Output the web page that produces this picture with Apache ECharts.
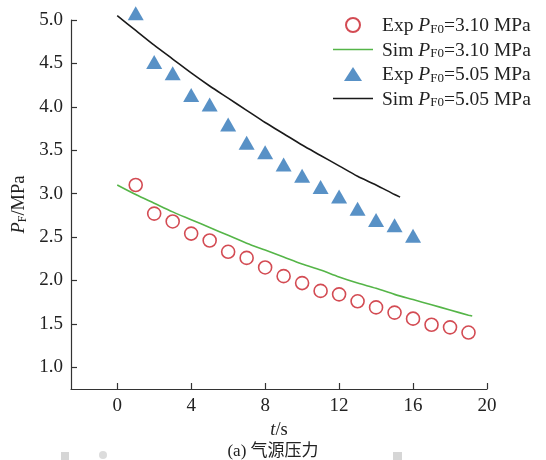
<!DOCTYPE html>
<html>
<head>
<meta charset="utf-8">
<script src="https://cdn.jsdelivr.net/npm/echarts@6/dist/echarts.min.js"></script>
<style>
  html, body { margin: 0; padding: 0; background: #fff; }
  #chart { width: 546px; height: 460px; }
</style>
</head>
<body>
<div id="chart"></div>
<script>
// Gas source pressure P_F versus time t
const expTime310 = [1, 2, 3, 4, 5, 6, 7, 8, 9, 10, 11, 12, 13, 14, 15, 16, 17, 18, 19];
const expP310 = [3.10, 2.77, 2.68, 2.54, 2.46, 2.33, 2.26, 2.15, 2.05, 1.97, 1.88, 1.84, 1.76, 1.69, 1.63, 1.56, 1.49, 1.46, 1.40];

const simTime310 = [0, 1, 2, 3, 4, 5, 6, 7, 8, 9, 10, 11, 12, 13, 14, 15, 16, 17, 18, 19, 19.2];
const simP310 = [3.10, 2.99, 2.89, 2.79, 2.70, 2.61, 2.52, 2.43, 2.35, 2.27, 2.19, 2.12, 2.04, 1.97, 1.91, 1.84, 1.78, 1.72, 1.66, 1.60, 1.59];

const expTime505 = [1, 2, 3, 4, 5, 6, 7, 8, 9, 10, 11, 12, 13, 14, 15, 16];
const expP505 = [5.05, 4.49, 4.36, 4.11, 4.00, 3.77, 3.56, 3.45, 3.31, 3.18, 3.05, 2.94, 2.80, 2.67, 2.61, 2.49];

const simTime505 = [0, 1, 2, 3, 4, 5, 6, 7, 8, 9, 10, 11, 12, 13, 14, 15, 15.3];
const simP505 = [5.05, 4.88, 4.71, 4.55, 4.39, 4.24, 4.10, 3.96, 3.82, 3.69, 3.56, 3.44, 3.32, 3.20, 3.10, 2.99, 2.96];

const xTicks = [0, 4, 8, 12, 16, 20];
const yTicks = [1.0, 1.5, 2.0, 2.5, 3.0, 3.5, 4.0, 4.5, 5.0];

const seriesNames = ['Exp PF0=3.10 MPa', 'Sim PF0=3.10 MPa', 'Exp PF0=5.05 MPa', 'Sim PF0=5.05 MPa'];
const legendParts = [['Exp ', '=3.10 MPa'], ['Sim ', '=3.10 MPa'], ['Exp ', '=5.05 MPa'], ['Sim ', '=5.05 MPa']];

const SERIF = '"Liberation Serif", "Times New Roman", serif';
const AXIS_COLOR = '#333333';
const RED = '#c81e28';
const GREEN = '#55b548';
const BLUE = '#2e75b8';
const BLACK = '#1a1a1a';

// legend glyphs: a thin bar for the simulated curves, a triangle for the measured points
const LINE_ICON = 'path://M0,0 L40,0 L40,1.5 L0,1.5 Z';
const TRI_ICON = 'path://M9,0 L18,14 L0,14 Z';

function pairs(xs, ys) { return xs.map((x, i) => [x, ys[i]]); }

function richSet(size, sub) {
  return {
    n: { fontFamily: SERIF, fontSize: size, color: '#222', lineHeight: 22, verticalAlign: 'bottom' },
    i: { fontFamily: SERIF, fontSize: size, fontStyle: 'italic', color: '#222', lineHeight: 22, verticalAlign: 'bottom' },
    s: { fontFamily: SERIF, fontSize: sub, color: '#222', lineHeight: 8, verticalAlign: 'bottom' }
  };
}

const chart = echarts.init(document.getElementById('chart'), null, { renderer: 'canvas' });

chart.setOption({
  animation: false,
  backgroundColor: '#ffffff',
  grid: { left: 71, right: 59, top: 20, bottom: 71, outerBoundsMode: 'none' },
  legend: {
    orient: 'vertical',
    left: 328,
    top: 11,
    itemWidth: 40,
    itemHeight: 14,
    itemGap: 4.5,
    data: [
      { name: seriesNames[0], icon: 'circle' },
      { name: seriesNames[1], icon: LINE_ICON, itemStyle: { color: GREEN } },
      { name: seriesNames[2], icon: TRI_ICON, itemStyle: { color: BLUE } },
      { name: seriesNames[3], icon: LINE_ICON, itemStyle: { color: BLACK } }
    ],
    formatter: function (name) {
      const k = seriesNames.indexOf(name);
      return '{n|' + legendParts[k][0] + '}{i|P}{s|F0}{n|' + legendParts[k][1] + '}';
    },
    textStyle: { rich: richSet(19.5, 13), padding: [0, 0, 0, 4] }
  },
  xAxis: {
    type: 'value',
    min: -2.5,
    max: 20,
    name: '{i|t}{n|/s}',
    nameLocation: 'middle',
    nameGap: 23,
    nameTextStyle: { rich: richSet(18.5, 12) },
    axisLine: { show: true, onZero: false, lineStyle: { color: AXIS_COLOR, width: 1.2 } },
    axisTick: { show: true, inside: true, length: 6, customValues: xTicks, lineStyle: { color: AXIS_COLOR, width: 1.2 } },
    axisLabel: { customValues: xTicks, margin: 8, fontFamily: SERIF, fontSize: 19, color: '#222' },
    splitLine: { show: false }
  },
  yAxis: {
    type: 'value',
    min: 0.75,
    max: 5.0,
    name: '{i|P}{s|F}{n|/MPa}',
    nameLocation: 'middle',
    nameGap: 42,
    nameTextStyle: { rich: richSet(18.5, 12) },
    axisLine: { show: true, onZero: false, lineStyle: { color: AXIS_COLOR, width: 1.2 } },
    axisTick: { show: true, inside: true, length: 6, customValues: yTicks, lineStyle: { color: AXIS_COLOR, width: 1.2 } },
    axisLabel: {
      customValues: yTicks, margin: 8, fontFamily: SERIF, fontSize: 19, color: '#222',
      formatter: v => v.toFixed(1)
    },
    splitLine: { show: false }
  },
  series: [
    {
      name: seriesNames[0],
      type: 'scatter',
      data: pairs(expTime310, expP310),
      symbol: 'circle',
      symbolSize: 13,
      clip: false,
      itemStyle: { color: 'rgba(255,255,255,0)', borderColor: RED, borderWidth: 1.6 },
      z: 3
    },
    {
      name: seriesNames[1],
      type: 'line',
      data: pairs(simTime310, simP310),
      showSymbol: false,
      symbol: 'none',
      smooth: 0.3,
      clip: false,
      lineStyle: { color: GREEN, width: 1.6 },
      itemStyle: { color: GREEN },
      z: 2
    },
    {
      name: seriesNames[2],
      type: 'scatter',
      data: pairs(expTime505, expP505),
      symbol: 'triangle',
      symbolSize: [16, 14],
      symbolOffset: [0, -2.3],
      clip: false,
      itemStyle: { color: BLUE },
      z: 3
    },
    {
      name: seriesNames[3],
      type: 'line',
      data: pairs(simTime505, simP505),
      showSymbol: false,
      symbol: 'none',
      smooth: 0.3,
      clip: false,
      lineStyle: { color: BLACK, width: 1.6 },
      itemStyle: { color: BLACK },
      z: 2
    }
  ],
  graphic: [
    {
      type: 'text',
      left: 'center',
      top: 443,
      style: {
        text: '(a) 气源压力',
        fontFamily: '"Liberation Serif", "Noto Sans CJK SC", serif',
        fontSize: 17,
        fill: '#222'
      }
    },
    { type: 'rect', shape: { x: 61, y: 452, width: 8, height: 8 }, style: { fill: '#d6d6d6' }, silent: true },
    { type: 'circle', shape: { cx: 103, cy: 455, r: 4 }, style: { fill: '#dcdcdc' }, silent: true },
    { type: 'rect', shape: { x: 393, y: 452, width: 9, height: 8 }, style: { fill: '#d6d6d6' }, silent: true }
  ]
});
</script>
</body>
</html>
